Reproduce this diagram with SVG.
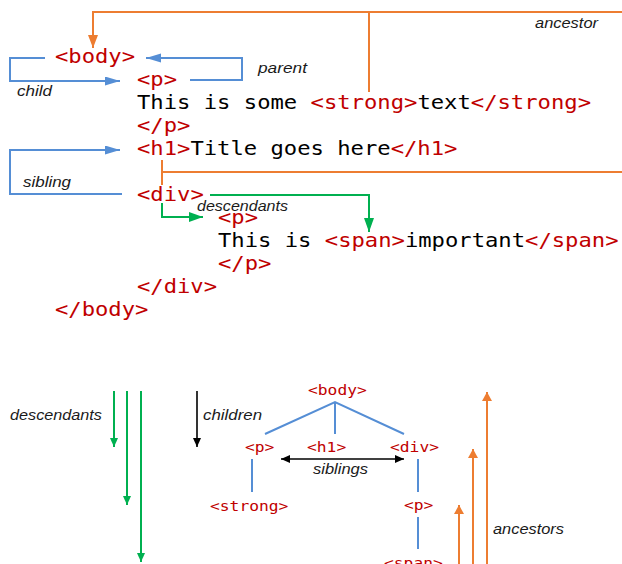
<svg xmlns="http://www.w3.org/2000/svg" width="622" height="564" viewBox="0 0 622 564">
<defs>
<style>
.code{font-family:"DejaVu Sans Mono","Liberation Mono",monospace;font-size:19.5px;fill:#000;white-space:pre}
.tree{font-family:"DejaVu Sans Mono","Liberation Mono",monospace;font-size:14px;fill:#C00000}
.t{fill:#C00000}
.lbl{font-family:"Liberation Sans","Open Sans",sans-serif;font-style:italic;font-size:15px;fill:#1a1a1a}
.blue{stroke:#558ED5;stroke-width:2;fill:none}
.orange{stroke:#ED7D31;stroke-width:2;fill:none}
.green{stroke:#00B050;stroke-width:2;fill:none}
.black{stroke:#000;stroke-width:1.6;fill:none}
</style>
<marker id="aBlue" markerUnits="userSpaceOnUse" markerWidth="16" markerHeight="10" refX="15" refY="4.5" orient="auto"><path d="M0,0 L15,4.5 L0,9 z" fill="#558ED5"/></marker>
<marker id="aOrange" markerUnits="userSpaceOnUse" markerWidth="14" markerHeight="11" refX="13" refY="5" orient="auto"><path d="M0,0 L13,5 L0,10 z" fill="#ED7D31"/></marker>
<marker id="aGreen" markerUnits="userSpaceOnUse" markerWidth="15" markerHeight="11" refX="14" refY="5" orient="auto"><path d="M0,0 L14,5 L0,10 z" fill="#00B050"/></marker>
<marker id="sGreen" markerUnits="userSpaceOnUse" markerWidth="10" markerHeight="9" refX="9" refY="4" orient="auto"><path d="M0,0 L9,4 L0,8 z" fill="#00B050"/></marker>
<marker id="sBlack" markerUnits="userSpaceOnUse" markerWidth="10" markerHeight="9" refX="9" refY="4" orient="auto"><path d="M0,0 L9,4 L0,8 z" fill="#000"/></marker>
<marker id="sBlackS" markerUnits="userSpaceOnUse" markerWidth="10" markerHeight="9" refX="0" refY="4" orient="auto"><path d="M9,0 L0,4 L9,8 z" fill="#000"/></marker>
<marker id="sOrange" markerUnits="userSpaceOnUse" markerWidth="10" markerHeight="11" refX="9" refY="5" orient="auto"><path d="M0,0 L9,5 L0,10 z" fill="#ED7D31"/></marker>
</defs>

<g id="connectors">
<polyline class="orange" points="622,12 93,12 93,48" marker-end="url(#aOrange)"/>
<line class="orange" x1="369" y1="12" x2="369" y2="92"/>
<line class="orange" x1="162" y1="160" x2="162" y2="185"/>
<line class="orange" x1="162" y1="172" x2="622" y2="172"/>
<polyline class="blue" points="45,58 10,58 10,81 120,81" marker-end="url(#aBlue)"/>
<polyline class="blue" points="190,80 242,80 242,58 146,58" marker-end="url(#aBlue)"/>
<polyline class="blue" points="122,194 10,194 10,150 120,150" marker-end="url(#aBlue)"/>
<polyline class="green" points="210,195 369,195 369,232" marker-end="url(#aGreen)"/>
<polyline class="green" points="162,203 162,217 203,217" marker-end="url(#aGreen)"/>

<line class="green" x1="114" y1="391" x2="114" y2="447" marker-end="url(#sGreen)"/>
<line class="green" x1="127" y1="391" x2="127" y2="505" marker-end="url(#sGreen)"/>
<line class="green" x1="141" y1="391" x2="141" y2="562" marker-end="url(#sGreen)"/>
<line class="black" x1="197" y1="391" x2="197" y2="447" marker-end="url(#sBlack)"/>
<polyline class="blue" points="265,434 335,402 404,434"/>
<line class="blue" x1="335" y1="402" x2="335" y2="434"/>
<line class="blue" x1="252" y1="459" x2="252" y2="492"/>
<line class="blue" x1="418" y1="459" x2="418" y2="492"/>
<line class="blue" x1="418" y1="517" x2="418" y2="549"/>
<line class="black" x1="281" y1="459" x2="404" y2="459" marker-start="url(#sBlackS)" marker-end="url(#sBlack)"/>
<line class="orange" x1="459" y1="564" x2="459" y2="505" marker-end="url(#sOrange)"/>
<line class="orange" x1="473" y1="564" x2="473" y2="449" marker-end="url(#sOrange)"/>
<line class="orange" x1="487" y1="564" x2="487" y2="392" marker-end="url(#sOrange)"/>
</g>

<g id="code">
<g id="line-body-open"><text class="code t" x="55" y="63" textLength="80" lengthAdjust="spacingAndGlyphs">&lt;body&gt;</text></g>
<g id="line-p-open"><text class="code t" x="137" y="86" textLength="40" lengthAdjust="spacingAndGlyphs">&lt;p&gt;</text></g>
<g id="line-p-text"><text class="code" x="137" y="109" textLength="454" lengthAdjust="spacingAndGlyphs">This is some <tspan class="t">&lt;strong&gt;</tspan>text<tspan class="t">&lt;/strong&gt;</tspan></text></g>
<g id="line-p-close"><text class="code t" x="137" y="132" textLength="53.4" lengthAdjust="spacingAndGlyphs">&lt;/p&gt;</text></g>
<g id="line-h1"><text class="code" x="137" y="155" textLength="320.4" lengthAdjust="spacingAndGlyphs"><tspan class="t">&lt;h1&gt;</tspan>Title goes here<tspan class="t">&lt;/h1&gt;</tspan></text></g>
<g id="line-div-open"><text class="code t" x="137" y="201" textLength="66.8" lengthAdjust="spacingAndGlyphs">&lt;div&gt;</text></g>
<g id="line-p2-open"><text class="code t" x="218" y="224" textLength="40" lengthAdjust="spacingAndGlyphs">&lt;p&gt;</text></g>
<g id="line-p2-text"><text class="code" x="218" y="247" textLength="400.5" lengthAdjust="spacingAndGlyphs">This is <tspan class="t">&lt;span&gt;</tspan>important<tspan class="t">&lt;/span&gt;</tspan></text></g>
<g id="line-p2-close"><text class="code t" x="218" y="270" textLength="53.4" lengthAdjust="spacingAndGlyphs">&lt;/p&gt;</text></g>
<g id="line-div-close"><text class="code t" x="137" y="293" textLength="80" lengthAdjust="spacingAndGlyphs">&lt;/div&gt;</text></g>
<g id="line-body-close"><text class="code t" x="55" y="316" textLength="93.4" lengthAdjust="spacingAndGlyphs">&lt;/body&gt;</text></g>
</g>

<g id="labels">
<text class="lbl" x="535" y="28" textLength="63" lengthAdjust="spacingAndGlyphs">ancestor</text>
<text class="lbl" x="258" y="73" textLength="49" lengthAdjust="spacingAndGlyphs">parent</text>
<text class="lbl" x="17" y="96" textLength="35" lengthAdjust="spacingAndGlyphs">child</text>
<text class="lbl" x="23" y="187" textLength="48" lengthAdjust="spacingAndGlyphs">sibling</text>
<text class="lbl" x="197" y="211" textLength="91" lengthAdjust="spacingAndGlyphs">descendants</text>
<text class="lbl" x="10" y="420" textLength="92" lengthAdjust="spacingAndGlyphs">descendants</text>
<text class="lbl" x="203" y="420" textLength="59" lengthAdjust="spacingAndGlyphs">children</text>
<text class="lbl" x="313" y="474" textLength="55" lengthAdjust="spacingAndGlyphs">siblings</text>
<text class="lbl" x="493" y="534" textLength="71" lengthAdjust="spacingAndGlyphs">ancestors</text>
</g>

<g id="tree-body"><text class="tree" x="308" y="395" textLength="58.8" lengthAdjust="spacingAndGlyphs">&lt;body&gt;</text></g>
<g id="tree-p"><text class="tree" x="245" y="452" textLength="29.4" lengthAdjust="spacingAndGlyphs">&lt;p&gt;</text></g>
<g id="tree-h1"><text class="tree" x="307" y="452" textLength="39.2" lengthAdjust="spacingAndGlyphs">&lt;h1&gt;</text></g>
<g id="tree-div"><text class="tree" x="390" y="452" textLength="49" lengthAdjust="spacingAndGlyphs">&lt;div&gt;</text></g>
<g id="tree-strong"><text class="tree" x="210" y="511" textLength="78.4" lengthAdjust="spacingAndGlyphs">&lt;strong&gt;</text></g>
<g id="tree-p2"><text class="tree" x="404" y="510" textLength="29.4" lengthAdjust="spacingAndGlyphs">&lt;p&gt;</text></g>
<g id="tree-span"><text class="tree" x="384" y="568" textLength="58.8" lengthAdjust="spacingAndGlyphs">&lt;span&gt;</text></g>
</svg>
